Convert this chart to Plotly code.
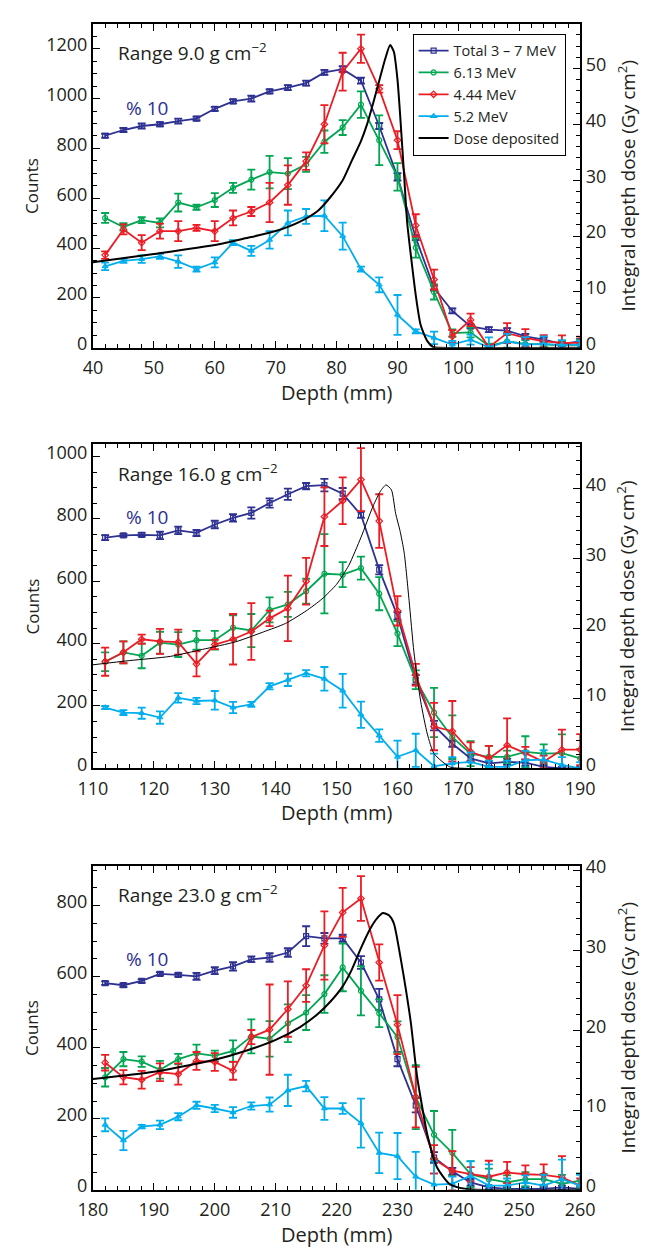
import plotly.graph_objects as go

W, H = 656, 1253
FONT = "Open Sans"
TXT = "#231f20"
C_TOTAL = "#2e3192"
C_613 = "#00a651"
C_444 = "#ed1c24"
C_52 = "#00aeef"
C_DOSE = "#000000"

# ---------------- Panel A : range 9.0 g cm-2 ----------------
depth_a = [42, 45, 48, 51, 54, 57, 60, 63, 66, 69, 72, 75, 78, 81, 84, 87, 90, 93, 96, 99, 102, 105, 108, 111, 114, 117, 120]
total_a = [851, 874, 890, 897, 910, 920, 959, 989, 1000, 1029, 1044, 1062, 1105, 1118, 1072, 890, 686, 442, 240, 148, 86, 73, 69, 46, 33, 16, 26]
total_a_err = [8, 8, 10, 8, 10, 8, 8, 8, 12, 8, 10, 10, 10, 12, 12, 12, 15, 10, 10, 10, 8, 10, 10, 10, 8, 8, 10]
g613_a = [521, 485, 512, 501, 583, 564, 593, 642, 675, 705, 699, 736, 827, 884, 976, 833, 686, 402, 224, 59, 62, 7, 26, 16, 13, 11, 13]
g613_a_err = [20, 15, 12, 18, 36, 10, 28, 20, 40, 65, 62, 30, 45, 30, 53, 100, 55, 40, 30, 15, 20, 10, 25, 15, 10, 15, 20]
r444_a = [372, 475, 422, 468, 468, 481, 468, 521, 547, 583, 653, 749, 897, 1108, 1200, 1039, 833, 491, 274, 46, 112, 2, 59, 40, 26, 20, 20]
r444_a_err = [15, 20, 30, 30, 40, 12, 40, 30, 18, 79, 79, 35, 77, 76, 57, 15, 36, 45, 40, 25, 25, 10, 40, 35, 25, 30, 25]
c52_a = [327, 349, 356, 367, 346, 316, 343, 422, 389, 433, 501, 527, 530, 448, 316, 253, 132, 66, 40, 13, 33, 2, 26, 13, 16, 11, 13]
c52_a_err = [15, 8, 15, 10, 25, 10, 20, 10, 20, 35, 50, 30, 62, 54, 10, 30, 80, 8, 25, 15, 20, 40, 30, 30, 30, 20, 15]
dose_depth_a = [40, 50, 60, 65, 70, 74, 77, 79, 81, 82.5, 84, 85, 86, 87, 88, 88.8, 89.4, 90.0, 90.5, 91.1, 91.6, 92.2, 93.0, 93.8, 94.9, 95.9, 97, 120]
dose_a = [15.3, 16.8, 18.4, 19.6, 20.9, 22.6, 24.6, 27.0, 30.0, 33.5, 37.0, 40.0, 43.8, 47.8, 51.8, 54.2, 53.0, 48.0, 40.6, 30.6, 22.3, 16.5, 9.4, 4.1, 1.2, 0.1, 0, 0]

# ---------------- Panel B : range 16.0 g cm-2 ----------------
depth_b = [112, 115, 118, 121, 124, 127, 130, 133, 136, 139, 142, 145, 148, 151, 154, 157, 160, 163, 166, 169, 172, 175, 178, 181, 184, 187, 190]
total_b = [740, 747, 749, 747, 763, 755, 782, 803, 819, 851, 879, 905, 908, 881, 813, 637, 489, 284, 137, 79, 32, 16, 21, 18, 5, 0, 0]
total_b_err = [8, 5, 6, 12, 12, 10, 12, 12, 18, 15, 18, 10, 20, 18, 10, 15, 12, 15, 15, 10, 10, 8, 10, 10, 5, 5, 5]
g613_b = [342, 372, 361, 403, 397, 411, 411, 451, 442, 508, 526, 568, 624, 621, 642, 560, 432, 284, 179, 100, 47, 37, 37, 53, 47, 49, 32]
g613_b_err = [30, 35, 40, 35, 40, 30, 30, 40, 53, 40, 40, 40, 127, 40, 37, 53, 40, 30, 79, 70, 40, 35, 20, 50, 30, 60, 30]
r444_b = [342, 372, 414, 407, 405, 335, 397, 414, 439, 481, 513, 600, 807, 858, 926, 793, 505, 300, 134, 119, 53, 32, 74, 49, 21, 60, 60]
r444_b_err = [45, 35, 15, 40, 40, 40, 15, 81, 91, 25, 105, 75, 94, 75, 101, 86, 47, 35, 76, 97, 30, 40, 86, 20, 20, 64, 50]
c52_b = [195, 179, 177, 163, 226, 216, 218, 195, 205, 263, 284, 305, 287, 249, 172, 105, 37, 58, 7, 16, 21, 5, 5, 26, 28, 11, 0]
c52_b_err = [5, 8, 18, 20, 15, 10, 30, 18, 8, 10, 20, 10, 38, 54, 42, 20, 52, 53, 40, 20, 30, 20, 20, 30, 30, 25, 20]
dose_depth_b = [110, 116, 122.7, 128, 133.5, 138, 141.6, 145, 147.6, 150, 152, 154, 156, 157.2, 158.1, 159, 159.7, 160.4, 161.1, 161.9, 162.7, 163.8, 164.9, 166, 168.6, 171, 190]
dose_b = [14.8, 15.4, 16.0, 17.0, 18.1, 19.5, 20.7, 22.5, 24.2, 26.3, 29.0, 33.0, 37.5, 39.6, 40.5, 39.8, 36.4, 34.0, 30.8, 24.0, 16.6, 9.6, 4.9, 2.1, 0.2, 0, 0]

# ---------------- Panel C : range 23.0 g cm-2 ----------------
depth_c = [182, 185, 188, 191, 194, 197, 200, 203, 206, 209, 212, 215, 218, 221, 224, 227, 230, 233, 236, 239, 242, 245, 248, 251, 254, 257, 260]
total_c = [582, 576, 588, 608, 605, 601, 617, 629, 649, 654, 668, 714, 708, 708, 640, 536, 368, 238, 91, 52, 21, 7, 3, 3, 3, 7, 3]
total_c_err = [5, 5, 5, 5, 5, 10, 10, 12, 8, 12, 12, 28, 15, 10, 18, 30, 20, 20, 15, 10, 10, 5, 5, 5, 5, 5, 5]
g613_c = [317, 368, 361, 338, 368, 384, 377, 391, 432, 425, 469, 499, 551, 626, 560, 497, 430, 261, 155, 104, 44, 30, 21, 30, 30, 17, 26]
g613_c_err = [26, 20, 15, 25, 15, 25, 15, 30, 48, 50, 53, 49, 53, 67, 69, 39, 44, 90, 67, 65, 37, 30, 20, 20, 15, 25, 20]
r444_c = [358, 317, 310, 331, 326, 363, 360, 335, 430, 451, 509, 575, 688, 781, 820, 640, 465, 261, 86, 54, 44, 37, 49, 44, 42, 35, 12]
r444_c_err = [22, 20, 25, 25, 30, 25, 25, 25, 20, 127, 78, 46, 96, 69, 63, 51, 83, 85, 40, 55, 20, 45, 30, 25, 30, 60, 20]
c52_c = [183, 139, 178, 183, 206, 238, 229, 218, 236, 240, 280, 292, 229, 229, 188, 104, 95, 37, 15, 17, 40, 12, 12, 21, 12, 30, 12]
c52_c_err = [18, 27, 5, 12, 10, 10, 10, 15, 10, 20, 44, 15, 32, 15, 69, 57, 65, 70, 65, 20, 40, 60, 20, 20, 30, 55, 30]
dose_depth_c = [180, 190, 200, 205, 210, 214, 217, 219, 221, 222.5, 224, 225.5, 226.6, 227.6, 228.6, 229.4, 230.5, 231.4, 232.2, 233.2, 234.1, 234.9, 236.5, 238.6, 241.4, 260]
dose_c = [13.9, 14.8, 16.3, 17.4, 18.8, 20.4, 22.1, 23.6, 25.5, 27.6, 30.3, 32.7, 34.0, 34.7, 34.4, 33.4, 29.1, 25.0, 20.9, 14.3, 10.2, 6.9, 2.8, 0.7, 0.1, 0]

# labels
series_names = ["Total 3 \u2013 7 MeV", "6.13 MeV", "4.44 MeV", "5.2 MeV", "Dose deposited"]
range_labels = ["Range 9.0 g cm<sup>\u22122</sup>", "Range 16.0 g cm<sup>\u22122</sup>", "Range 23.0 g cm<sup>\u22122</sup>"]
scale_label = "% 10"
x_title = "Depth (mm)"
y_title = "Counts"
y2_title = "Integral depth dose (Gy cm<sup>2</sup>)"

panels = [
    dict(depth=depth_a, series=[(total_a, total_a_err), (g613_a, g613_a_err), (r444_a, r444_a_err), (c52_a, c52_a_err)],
         ddepth=dose_depth_a, dose=dose_a, xr=[40, 120], yr=[0, 1300], y2r=[0, 58], top=12, bottom=341,
         dose_w=2.0, pct_y=97),
    dict(depth=depth_b, series=[(total_b, total_b_err), (g613_b, g613_b_err), (r444_b, r444_b_err), (c52_b, c52_b_err)],
         ddepth=dose_depth_b, dose=dose_b, xr=[110, 190], yr=[0, 1039], y2r=[0, 46.3], top=439, bottom=768,
         dose_w=1.0, pct_y=513),
    dict(depth=depth_c, series=[(total_c, total_c_err), (g613_c, g613_c_err), (r444_c, r444_c_err), (c52_c, c52_c_err)],
         ddepth=dose_depth_c, dose=dose_c, xr=[180, 260], yr=[0, 912], y2r=[0, 40.6], top=867, bottom=1196,
         dose_w=2.0, pct_y=962),
]

colors = [C_TOTAL, C_613, C_444, C_52]
symbols = ["square-open", "circle-open", "diamond-open", "triangle-up-open"]

X0, X1 = 81.7, 592.3

def px(x):
    return x / W

def py(y):
    return 1 - y / H

fig = go.Figure()
layout = dict(
    width=W, height=H, autosize=False,
    margin=dict(l=0, r=0, t=0, b=0),
    paper_bgcolor="white", plot_bgcolor="white",
    font=dict(family=FONT, color=TXT, size=18),
    showlegend=True,
    legend=dict(x=px(577), y=py(22), xanchor="right", yanchor="top",
                bgcolor="white", bordercolor="black", borderwidth=1,
                font=dict(size=14.5, family=FONT, color=TXT),
                tracegroupgap=0, itemwidth=30),
)
annotations = []

tickfont = dict(size=18, family=FONT, color=TXT)

for i, p in enumerate(panels):
    n = i + 1
    xname = "x" if n == 1 else f"x{n}"
    ya = 2 * n - 1
    yb = 2 * n
    yname_a = "y" if ya == 1 else f"y{ya}"
    yname_b = f"y{yb}"
    for k, (vals, errs) in enumerate(p["series"]):
        fig.add_trace(go.Scatter(
            x=p["depth"], y=vals, xaxis=xname, yaxis=yname_a,
            mode="lines+markers", name=series_names[k], showlegend=(n == 1),
            line=dict(color=colors[k], width=1.8),
            marker=dict(symbol=symbols[k], size=5, color=colors[k], line=dict(width=1.2, color=colors[k])),
            error_y=dict(type="data", array=errs, visible=True, color=colors[k], thickness=1.8, width=4),
        ))
    fig.add_trace(go.Scatter(
        x=p["ddepth"], y=p["dose"], xaxis=xname, yaxis=yname_b,
        mode="lines", name=series_names[4], showlegend=(n == 1),
        line=dict(color=C_DOSE, width=p["dose_w"], shape="spline", smoothing=0.6),
    ))

    dom_y = [py(p["bottom"]), py(p["top"])]
    xkey = "xaxis" if n == 1 else f"xaxis{n}"
    ykey_a = "yaxis" if ya == 1 else f"yaxis{ya}"
    ykey_b = f"yaxis{yb}"
    layout[xkey] = dict(
        domain=[px(X0), px(X1)], anchor=yname_a, range=p["xr"],
        showline=True, linewidth=2, linecolor="black", mirror="ticks",
        ticks="inside", ticklen=7, tickwidth=1.2, tickcolor="black",
        tick0=0, dtick=10, showgrid=False, zeroline=False, tickfont=tickfont,
        ticklabelstandoff=3,
        minor=dict(ticks="inside", dtick=2, ticklen=4, tickwidth=1, tickcolor="black", showgrid=False),
    )
    layout[ykey_a] = dict(
        domain=dom_y, anchor=xname, range=p["yr"],
        showline=True, linewidth=2, linecolor="black",
        ticks="inside", ticklen=7, tickwidth=1.2, tickcolor="black",
        tick0=0, dtick=200, showgrid=False, zeroline=False, tickfont=tickfont,
        ticklabelshift=-4,
        minor=dict(ticks="inside", dtick=50, ticklen=4, tickwidth=1, tickcolor="black", showgrid=False),
    )
    layout[ykey_b] = dict(
        overlaying=yname_a, side="right", anchor=xname, range=p["y2r"],
        showline=True, linewidth=2, linecolor="black",
        ticks="inside", ticklen=7, tickwidth=1.2, tickcolor="black",
        tick0=0, dtick=10, showgrid=False, zeroline=False, tickfont=tickfont,
        ticklabelshift=-4,
        minor=dict(ticks="inside", dtick=2, ticklen=4, tickwidth=1, tickcolor="black", showgrid=False),
    )

    mid = (p["top"] + p["bottom"]) / 2
    annotations.append(dict(x=px(18), y=py(mid), xref="paper", yref="paper", text=y_title,
                            textangle=-90, showarrow=False, font=dict(size=17, color=TXT, family=FONT),
                            xanchor="center", yanchor="middle"))
    annotations.append(dict(x=px(641), y=py(mid), xref="paper", yref="paper", text=y2_title,
                            textangle=-90, showarrow=False, font=dict(size=19, color=TXT, family=FONT),
                            xanchor="center", yanchor="middle"))
    annotations.append(dict(x=px((X0 + X1) / 2), y=py(p["bottom"] + 45), xref="paper", yref="paper", text=x_title,
                            showarrow=False, font=dict(size=20, color=TXT, family=FONT),
                            xanchor="center", yanchor="middle"))
    annotations.append(dict(x=px(106), y=py(p["top"] + 29), xref="paper", yref="paper", text=range_labels[i],
                            showarrow=False, font=dict(size=19, color=TXT, family=FONT),
                            xanchor="left", yanchor="middle"))
    annotations.append(dict(x=px(114), y=py(p["pct_y"]), xref="paper", yref="paper", text=scale_label,
                            showarrow=False, font=dict(size=19, color=C_TOTAL, family=FONT),
                            xanchor="left", yanchor="middle"))

layout["annotations"] = annotations
fig.update_layout(**layout)
fig.write_html("out.html", post_script="document.body.style.margin='0';document.body.style.overflow='hidden';")
